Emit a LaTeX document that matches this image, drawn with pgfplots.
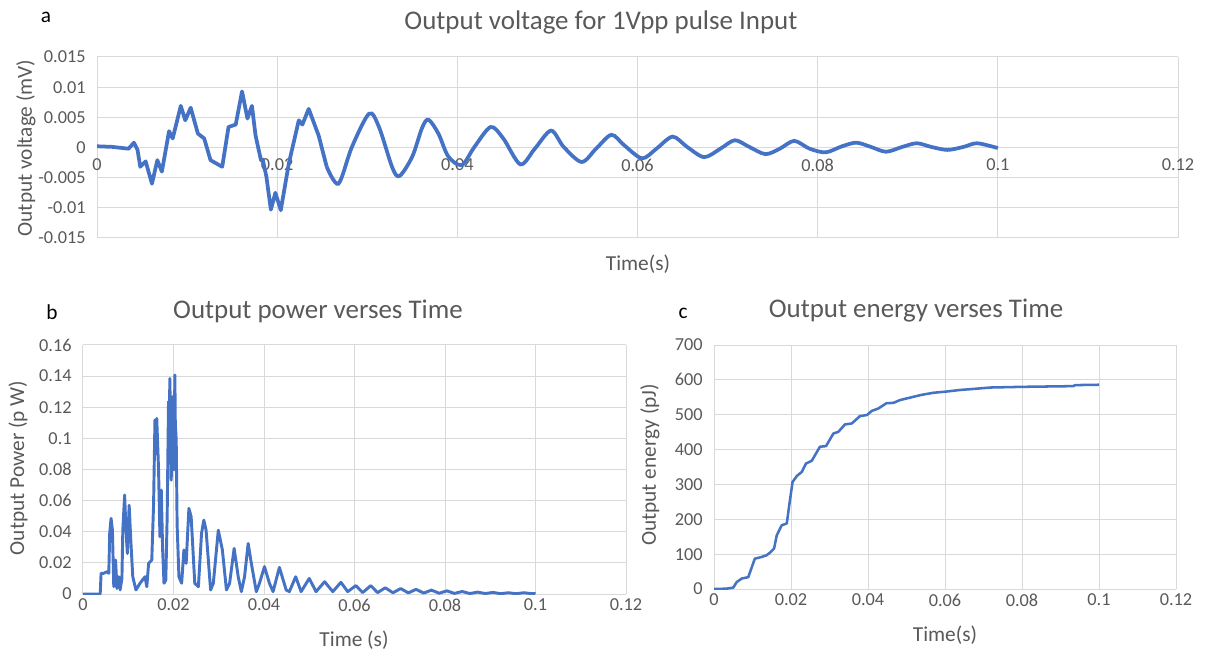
\documentclass[border=0pt]{standalone}
\usepackage{fontspec}
\setmainfont{Carlito}
\usepackage{pgfplots}
\pgfplotsset{compat=1.18}
\definecolor{xlblue}{HTML}{4472C4}
\definecolor{xlgray}{HTML}{595959}
\definecolor{xlgrid}{HTML}{D9D9D9}
\pgfplotsset{
 xlstyle/.style={
  scale only axis,
  anchor=south west,
  axis line style={draw=none},
  major tick length=0pt,
  grid=major,
  grid style={color=xlgrid, line width=0.75pt},
  scaled ticks=false,
  tick label style={font=\fontsize{13.7}{16}\selectfont, color=xlgray,
    /pgf/number format/assume math mode=true, /pgf/number format/fixed},
  yticklabel style={xshift=-5pt},
  xmin=0, xmax=0.12,
  xtick={0,0.02,0.04,0.06,0.08,0.1,0.12},
  xticklabel style={/pgf/number format/precision=2},
 }
}
\begin{document}
\begin{tikzpicture}
\useasboundingbox (0,0) rectangle (903.75pt,489.75pt);
% ---------- a ----------
\begin{axis}[xlstyle, at={(72.75pt,311.25pt)}, width=810.75pt, height=135.75pt,
  ymin=-0.015, ymax=0.015,
  ytick={-0.015,-0.01,-0.005,0,0.005,0.01,0.015},
  yticklabel style={/pgf/number format/precision=3},
  xticklabel style={yshift=63pt}]
\addplot[xlblue, line width=2.8pt, line join=round] coordinates {
(0,0.0002)(0.0017,0.0001)(0.0035,-0.0002)(0.0041,0.0008)(0.0045,-0.0004)
(0.0048,-0.0032)(0.0054,-0.0023)(0.0061,-0.006)(0.0067,-0.0021)(0.0072,-0.004)
(0.008,0.0027)(0.0084,0.0015)(0.0093,0.0069)(0.0098,0.0045)(0.0104,0.0066)
(0.0112,0.0023)(0.0119,0.0015)(0.0126,-0.0021)(0.0139,-0.0032)(0.0146,0.0034)
(0.0154,0.0038)(0.0161,0.0093)(0.0167,0.0048)(0.0172,0.0069)(0.0176,0.002)
(0.0182,-0.0021)(0.0184,-0.002)(0.0188,-0.0048)(0.0193,-0.0103)(0.0198,-0.0075)
(0.0204,-0.0104)(0.0213,-0.0026)(0.0224,0.0045)(0.0228,0.0038)(0.0235,0.0064)
(0.0246,0.002)(0.0255,-0.0032)};
\addplot[xlblue, line width=2.8pt, smooth, tension=0.5] coordinates {
(0.0255,-0.0032)(0.0268,-0.006)(0.0283,0.0001)(0.0302,0.0056)(0.0313,0.0034)
(0.0328,-0.0034)(0.0336,-0.0047)(0.035,-0.0015)(0.0361,0.0033)(0.0368,0.0046)
(0.0379,0.0023)(0.039,-0.0015)(0.0405,-0.0029)(0.0419,0.0001)(0.0437,0.0034)
(0.0451,0.0015)(0.047,-0.0028)(0.0486,-0.0002)(0.0504,0.0028)(0.0518,0.0001)
(0.0538,-0.0024)(0.0554,-0.0002)(0.0571,0.0021)(0.0585,0.0004)(0.0605,-0.0018)
(0.0621,-0.0002)(0.0639,0.0018)(0.0655,0.0001)(0.0674,-0.0016)(0.0692,-0.0002)
(0.0708,0.0012)(0.0724,0.0001)(0.0742,-0.0011)(0.0758,-0.0002)(0.0774,0.0011)
(0.0791,-0.0002)(0.0809,-0.0008)(0.0827,0.0002)(0.0843,0.0008)(0.0859,0.0001)
(0.0876,-0.0007)(0.0894,0.0001)(0.091,0.0007)(0.0926,0.0001)(0.0944,-0.0004)
(0.0962,0.0001)(0.0977,0.0007)(0.1,-0.0001)};
\end{axis}
% ---------- b ----------
\begin{axis}[xlstyle, at={(62.25pt,44.25pt)}, width=407.25pt, height=186.75pt,
  ymin=0, ymax=0.16,
  ytick={0,0.02,0.04,0.06,0.08,0.1,0.12,0.14,0.16},
  yticklabel style={/pgf/number format/precision=2}]
\addplot[xlblue, line width=2.2pt, line join=round] coordinates {
(0,0)(0.0038,0)(0.004,0.0133)(0.0046,0.0133)(0.0053,0.0143)(0.0057,0.0133)(0.0059,0.039)
(0.0062,0.0486)(0.0065,0.041)(0.0068,0.0047)(0.0072,0.0218)(0.0075,0.0036)
(0.0079,0.0111)(0.0082,0.0026)(0.0086,0.01)(0.0088,0.041)(0.0092,0.0636)
(0.0095,0.041)(0.0098,0.026)(0.0102,0.057)(0.0106,0.0325)(0.011,0.0111)
(0.0117,0.0026)(0.0126,0.0069)(0.0137,0.0111)(0.0141,0.0047)(0.0145,0.0197)
(0.0152,0.0218)(0.0156,0.058)(0.0159,0.1118)(0.0161,0.09)(0.0163,0.1128)(0.0167,0.0797)
(0.017,0.0368)(0.0173,0.0668)(0.0176,0.0283)(0.0179,0.0069)(0.0183,0.009)
(0.0186,0.0497)(0.0189,0.1236)(0.019,0.1)(0.0192,0.1385)(0.0194,0.09)(0.0195,0.0732)(0.0197,0.115)(0.0198,0.1268)
(0.0201,0.0797)(0.0203,0.1407)(0.0204,0.11)(0.0206,0.0989)(0.0208,0.0443)(0.0212,0.0111)
(0.0218,0.0069)(0.0223,0.0283)(0.0228,0.0197)(0.0234,0.055)(0.0239,0.0497)
(0.0247,0.0069)(0.0255,0.0047)(0.0262,0.039)(0.0267,0.0475)(0.0272,0.041)
(0.0282,0.0026)(0.0288,0.0069)(0.0299,0.041)(0.0308,0.0283)(0.0317,0.0026)
(0.0324,0.0069)(0.0334,0.0293)(0.0343,0.0111)(0.035,0.0015)(0.0357,0.0111)
(0.0365,0.0325)(0.0372,0.0197)(0.0383,0.0015)(0.039,0.0069)(0.0401,0.0176)
(0.0412,0.0069)(0.042,0.0015)(0.0434,0.0171)(0.0449,0.0026)(0.0456,0.0015)
(0.047,0.0111)(0.0482,0.0015)(0.05,0.01)(0.0515,0.0015)(0.0534,0.0079)
(0.0552,0.0015)(0.057,0.0075)(0.0585,0.0015)(0.0603,0.0054)(0.0618,0.0009)
(0.0636,0.0054)(0.0651,0.0009)(0.0668,0.004)(0.0685,0.0008)(0.0702,0.0035)
(0.0719,0.0007)(0.0736,0.003)(0.0753,0.0006)(0.077,0.0025)(0.0787,0.0005)
(0.0804,0.002)(0.0821,0.0004)(0.0838,0.0016)(0.0855,0.0003)(0.0872,0.0012)
(0.0889,0.0003)(0.0906,0.001)(0.0923,0.0002)(0.094,0.0008)(0.0957,0.0002)
(0.0974,0.0008)(0.099,0.0003)(0.1,0.0002)};
\end{axis}
% ---------- c ----------
\begin{axis}[xlstyle, at={(535.5pt,48pt)}, width=346.5pt, height=183pt,
  ymin=0, ymax=700,
  ytick={0,100,200,300,400,500,600,700}]
\addplot[xlblue, line width=1.9pt, line join=round] coordinates {
(0,0)(0.0033,1)(0.005,4)(0.0059,20)(0.0072,30)(0.0089,34)(0.0106,87)
(0.0124,92)(0.0137,97)(0.0145,104)(0.0156,116)(0.0163,154)(0.0176,183)
(0.0189,188)(0.0196,245)(0.0204,307)(0.0215,324)(0.0228,336)(0.0239,360)
(0.0254,368)(0.0275,408)(0.0291,410)(0.031,446)(0.0323,451)(0.034,472)
(0.0358,475)(0.0379,496)(0.0397,499)(0.041,511)(0.0427,518)(0.0448,533)
(0.0466,534)(0.0483,542)(0.0509,549)(0.0539,557)(0.057,563)(0.06,566)
(0.0639,571)(0.0674,574)(0.0717,578)(0.08,580)(0.0933,582)(0.0938,585)
(0.1,586)};
\end{axis}
% ---------- texts ----------
\node[font=\fontsize{16}{18}\selectfont] at (34.5pt,477pt) {a};
\node[font=\fontsize{20.2}{24}\selectfont, color=xlgray] at (450.75pt,473.25pt) {Output voltage for 1Vpp pulse Input};
\node[font=\fontsize{16}{19}\selectfont, color=xlgray, rotate=90] at (19.5pt,378.75pt) {Output voltage (mV)};
\node[font=\fontsize{16}{19}\selectfont, color=xlgray] at (478.5pt,291.75pt) {Time(s)};
\node[font=\fontsize{16}{18}\selectfont] at (39pt,255.75pt) {b};
\node[font=\fontsize{20.2}{24}\selectfont, color=xlgray] at (238.5pt,256.5pt) {Output power verses Time};
\node[font=\fontsize{16}{19}\selectfont, color=xlgray, rotate=90] at (13.5pt,138.75pt) {Output Power (p W)};
\node[font=\fontsize{16}{19}\selectfont, color=xlgray] at (265.5pt,9.75pt) {Time (s)};
\node[font=\fontsize{16}{18}\selectfont] at (512.25pt,255pt) {c};
\node[font=\fontsize{20.2}{24}\selectfont, color=xlgray] at (687pt,256.5pt) {Output energy verses Time};
\node[font=\fontsize{16}{19}\selectfont, color=xlgray, rotate=90] at (487.5pt,141pt) {Output energy (pJ)};
\node[font=\fontsize{16}{19}\selectfont, color=xlgray] at (708.75pt,13.5pt) {Time(s)};
\end{tikzpicture}
\end{document}
